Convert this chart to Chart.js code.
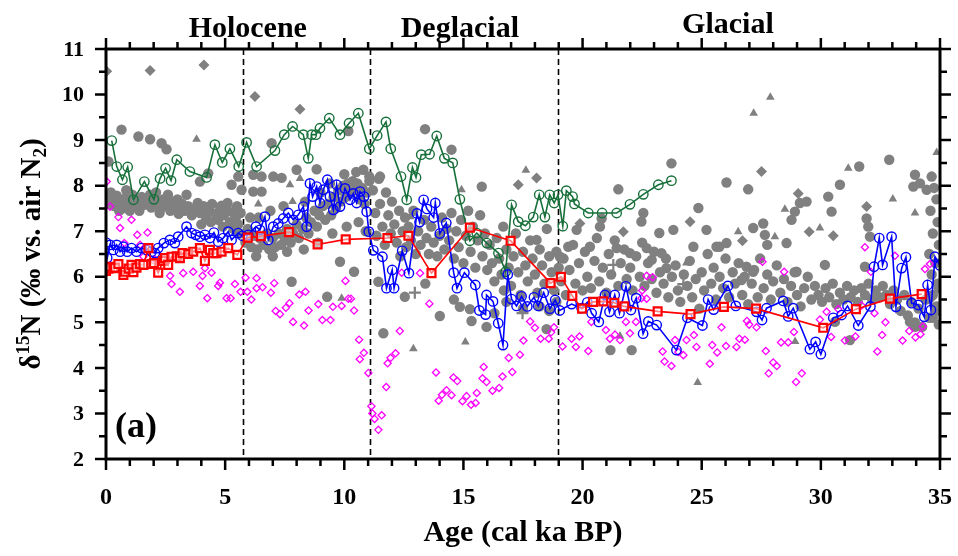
<!DOCTYPE html>
<html><head><meta charset="utf-8">
<style>html,body{margin:0;padding:0;background:#fff;overflow:hidden}canvas{display:block}</style>
<script src="https://cdn.jsdelivr.net/npm/chart.js@4.4.1/dist/chart.umd.min.js"></script>
</head><body>
<canvas id="c" width="958" height="556"></canvas>
<script>
// ---------- tick labels / annotations ----------
const xTickLabels = [0, 5, 10, 15, 20, 25, 30, 35];
const yTickLabels = [2, 3, 4, 5, 6, 7, 8, 9, 10, 11];
const periodBoundaries = [5.75, 11.1, 18.95];
const periodNames = ['Holocene', 'Deglacial', 'Glacial'];
const periodNameX = [5.95, 14.85, 26.1];

// ---------- series ----------
const greenSeries = [[0.24,8.99],[0.45,8.42],[0.69,8.13],[0.91,8.41],[1.15,7.69],[1.61,8.09],[2.01,7.70],[2.27,8.16],[2.50,8.38],[2.73,8.11],[2.97,8.57],[3.52,8.31],[4.22,8.18],[4.57,8.90],[4.88,8.51],[5.20,8.81],[5.57,8.42],[5.90,8.95],[6.32,8.42],[7.09,8.77],[7.48,9.12],[7.83,9.30],[8.28,9.12],[8.49,8.60],[8.63,9.12],[8.81,9.12],[8.98,9.26],[9.37,9.48],[9.82,9.12],[10.20,9.37],[10.59,9.59],[11.05,8.81],[11.38,9.10],[11.75,9.40],[11.95,8.81],[12.38,8.20],[12.62,7.69],[12.86,8.40],[13.01,8.18],[13.23,8.68],[13.58,8.69],[13.88,9.09],[14.20,8.60],[14.55,8.50],[14.85,7.70],[15.27,6.79],[15.56,6.96],[15.98,6.74],[16.47,6.52],[16.77,6.11],[17.02,7.58],[17.30,7.21],[17.60,7.12],[17.93,7.31],[18.18,7.80],[18.42,7.31],[18.62,7.80],[18.81,7.62],[18.97,7.80],[19.17,7.11],[19.32,7.89],[19.58,7.76],[19.66,7.60],[20.24,7.40],[20.82,7.40],[21.43,7.40],[21.99,7.59],[22.55,7.81],[23.18,8.02],[23.73,8.11]];

const blueSeries = [[0.00,6.75],[0.05,6.41],[0.17,6.70],[0.31,6.59],[0.45,6.70],[0.59,6.55],[0.73,6.66],[0.89,6.55],[1.07,6.63],[1.28,6.55],[1.49,6.63],[1.70,6.59],[1.91,6.55],[2.05,6.52],[2.19,6.63],[2.43,6.74],[2.68,6.81],[2.89,6.74],[3.03,6.88],[3.38,7.10],[3.59,6.96],[3.77,6.92],[3.94,6.88],[4.15,6.92],[4.36,6.85],[4.53,6.97],[4.71,6.77],[4.92,6.85],[5.13,6.99],[5.27,6.81],[5.55,6.96],[5.72,6.90],[5.97,6.92],[6.29,7.10],[6.46,7.03],[6.67,7.32],[6.81,6.81],[7.02,7.10],[7.23,7.17],[7.44,7.28],[7.65,7.40],[7.86,7.25],[8.07,7.36],[8.28,7.54],[8.42,7.10],[8.56,8.05],[8.67,7.76],[8.84,7.98],[8.98,7.62],[9.12,7.91],[9.29,8.13],[9.40,7.76],[9.54,7.47],[9.68,8.02],[9.82,7.54],[10.03,7.94],[10.24,7.69],[10.38,7.83],[10.52,7.62],[10.66,7.87],[10.83,7.76],[10.94,7.43],[11.03,6.99],[11.22,6.58],[11.60,6.44],[11.77,5.75],[12.01,6.15],[12.09,5.75],[12.43,6.57],[12.71,6.08],[13.05,7.39],[13.16,7.20],[13.33,7.69],[13.47,7.49],[13.75,7.30],[13.82,7.62],[14.01,6.95],[14.28,7.18],[14.59,6.09],[14.73,5.75],[15.04,6.09],[15.50,5.82],[15.67,5.26],[15.93,5.17],[15.97,5.60],[16.24,5.46],[16.46,4.98],[16.66,4.50],[16.86,6.05],[17.02,5.51],[17.23,5.36],[17.44,5.57],[17.68,5.35],[17.96,5.55],[18.14,5.36],[18.37,5.65],[18.63,5.30],[18.85,5.49],[19.04,5.26],[19.54,5.40],[19.96,5.31],[20.20,5.44],[20.38,5.20],[20.68,5.01],[20.94,5.60],[21.13,5.23],[21.35,5.60],[21.55,5.20],[21.82,5.79],[22.03,5.27],[22.25,5.53],[22.54,4.75],[22.76,5.02],[23.11,4.94],[23.94,4.39],[24.40,5.10],[25.03,4.93],[25.27,5.50],[25.50,5.28],[26.10,5.80],[26.43,5.36],[27.30,5.23],[27.53,5.05],[27.72,5.31],[28.42,5.47],[28.63,5.13],[28.84,5.31],[29.54,4.41],[29.78,4.57],[30.00,4.30],[30.52,5.10],[30.87,5.16],[31.12,5.36],[31.57,4.93],[32.08,5.35],[32.23,6.22],[32.45,6.85],[32.59,6.26],[32.97,6.88],[33.15,5.34],[33.39,6.19],[33.57,6.43],[33.81,5.42],[34.09,5.38],[34.34,5.12],[34.48,5.82],[34.62,5.27],[34.79,6.44],[35.00,6.25]];

const redSeries = [[0.00,6.13],[0.10,6.18],[0.17,6.22],[0.31,6.19],[0.38,6.20],[0.52,6.28],[0.73,6.04],[0.80,6.11],[0.95,6.18],[1.07,6.26],[1.15,6.10],[1.28,6.20],[1.43,6.28],[1.57,6.26],[1.78,6.63],[1.91,6.28],[2.01,6.30],[2.19,6.09],[2.40,6.35],[2.48,6.41],[2.61,6.26],[2.75,6.44],[2.97,6.45],[3.10,6.41],[3.21,6.52],[3.45,6.50],[3.66,6.55],[3.94,6.63],[4.15,6.35],[4.36,6.59],[4.50,6.52],[4.64,6.52],[4.85,6.55],[5.13,6.63],[5.51,6.48],[5.95,6.86],[6.50,6.89],[7.68,6.98],[8.88,6.71],[10.06,6.82],[11.81,6.85],[12.69,6.90],[13.66,6.08],[15.27,7.08],[16.98,6.79],[18.66,5.86],[19.09,6.00],[19.57,5.58],[19.98,5.30],[20.44,5.45],[20.87,5.46],[21.33,5.43],[21.75,5.35],[23.15,5.24],[24.53,5.18],[25.93,5.34],[27.28,5.30],[30.10,4.88],[31.47,5.29],[32.90,5.52],[34.23,5.62]];

const magentaPoints = [[0.03,8.09],[0.17,7.54],[0.52,7.31],[0.59,7.07],[1.07,7.25],[0.77,6.74],[1.31,6.92],[1.74,6.97],[1.43,6.70],[1.57,6.44],[2.05,6.38],[2.69,6.02],[2.75,5.84],[3.10,5.67],[3.24,6.08],[3.66,6.11],[3.94,5.80],[4.05,6.02],[4.15,6.19],[4.25,5.53],[4.43,6.09],[4.71,5.80],[4.78,5.87],[5.06,5.53],[5.23,5.53],[5.41,5.84],[5.65,5.67],[5.86,5.98],[5.93,5.67],[6.10,5.50],[6.32,5.75],[6.32,5.97],[6.57,5.77],[6.92,5.65],[7.06,5.86],[7.12,5.25],[7.30,5.18],[7.55,5.32],[7.70,5.42],[7.85,5.01],[8.11,5.61],[8.37,5.67],[8.31,4.93],[8.50,5.26],[8.91,5.40],[9.08,5.05],[9.42,5.05],[9.52,5.34],[9.89,5.36],[10.05,5.91],[10.17,5.52],[10.28,5.52],[10.41,5.26],[10.62,4.62],[10.65,4.19],[10.82,4.33],[11.01,3.89],[11.14,3.16],[11.18,3.00],[11.27,2.88],[11.43,2.64],[11.57,2.96],[11.76,3.58],[11.82,4.10],[11.94,4.22],[12.15,4.32],[12.33,4.81],[12.41,6.09],[13.18,6.08],[13.57,5.41],[13.85,3.90],[13.96,3.28],[14.10,3.41],[14.29,3.51],[14.50,3.40],[14.58,3.79],[14.74,3.71],[14.96,3.27],[15.13,3.38],[15.32,3.19],[15.51,3.23],[15.56,3.45],[15.80,3.77],[15.85,4.02],[15.97,3.69],[16.22,3.50],[16.50,3.56],[16.64,3.81],[16.90,4.22],[17.05,3.91],[17.37,4.29],[17.52,4.60],[17.80,5.02],[18.00,4.88],[18.24,4.64],[18.58,4.64],[18.68,4.78],[18.80,4.89],[19.16,4.47],[19.54,4.64],[19.72,4.46],[19.87,4.69],[20.24,4.37],[20.37,5.01],[20.98,4.83],[21.15,4.64],[21.36,4.73],[21.57,4.61],[21.82,5.01],[21.99,4.76],[22.24,5.01],[22.50,5.70],[22.47,5.53],[22.69,5.52],[22.69,6.02],[22.94,5.99],[23.36,4.36],[23.44,4.14],[23.73,4.04],[23.88,4.61],[24.02,4.35],[24.23,4.28],[24.36,4.61],[24.67,4.72],[24.78,4.46],[25.34,4.09],[25.44,4.50],[25.65,4.34],[25.83,4.89],[26.02,4.48],[26.46,4.46],[26.58,4.64],[26.81,4.62],[26.90,5.03],[26.99,4.95],[27.30,4.89],[27.55,6.33],[27.69,4.37],[27.81,3.88],[28.00,4.12],[28.15,4.04],[28.33,4.56],[28.46,6.11],[28.63,4.56],[28.87,4.79],[28.96,3.69],[29.20,3.88],[29.96,5.06],[30.24,5.23],[30.43,4.68],[30.73,5.29],[31.01,4.60],[31.45,4.69],[31.71,5.37],[31.85,6.65],[32.10,6.11],[32.25,5.20],[32.37,4.36],[32.57,4.72],[32.71,5.00],[33.11,6.46],[33.43,4.60],[33.71,4.81],[33.97,4.67],[34.18,4.74],[34.28,4.91],[34.37,6.17],[34.58,6.28]];

const grayCircles = [
[0.10,8.53],[0.65,9.23],[1.36,9.08],[1.85,9.02],[2.33,8.93],[2.54,8.80],[4.29,8.27],[3.94,8.09],[5.27,8.02],[5.55,8.20],[5.69,7.91],
[0.05,7.80],[0.10,7.60],[0.20,7.85],[0.25,7.70],[0.35,7.55],[0.45,7.78],[0.55,7.45],[0.60,7.62],[0.70,7.50],[0.80,7.72],[0.85,7.90],[0.95,7.60],[1.00,7.45],[1.10,7.80],[1.20,7.55],[1.35,7.68],[1.40,7.45],[1.50,7.75],[1.60,7.58],[1.75,7.66],[1.85,7.80],[1.90,7.52],[2.00,7.72],[2.10,7.85],[2.15,7.60],[2.25,7.40],[2.30,7.50],[2.40,7.70],[2.55,7.58],[2.60,7.80],[2.70,7.45],[2.80,7.65],[2.95,7.52],[3.00,7.70],[3.05,7.38],[3.20,7.60],[3.30,7.45],[3.38,7.80],[3.45,7.55],[3.60,7.35],[3.70,7.50],[3.85,7.62],[3.95,7.40],[4.00,7.15],[4.10,7.55],[4.20,7.30],[4.35,7.45],[4.40,7.20],[4.45,7.60],[4.60,7.38],[4.70,7.25],[4.80,7.50],[4.85,7.56],[4.90,7.10],[4.95,7.35],[5.05,7.55],[5.10,7.62],[5.20,7.20],[5.30,7.42],[5.35,7.05],[5.45,7.30],[5.50,7.55],[5.55,7.15],[5.60,6.95],[5.65,7.40],
[6.95,8.93],[6.18,8.24],[6.53,8.20],[7.02,8.20],[7.37,8.17],[8.00,8.35],[8.84,8.36],[6.18,7.87],[6.53,7.87],
[5.85,6.75],[5.95,7.05],[6.05,7.30],[6.10,6.65],[6.20,6.90],[6.30,6.45],[6.35,6.60],[6.40,7.30],[6.45,6.85],[6.60,6.70],[6.75,6.95],[6.85,6.60],[6.90,7.45],[7.00,6.85],[7.00,6.45],[7.10,6.65],[7.25,6.95],[7.35,6.70],[7.45,7.55],[7.50,6.85],[7.60,7.05],[7.60,6.55],[7.75,6.75],[7.85,6.95],[8.00,7.15],[8.10,6.85],[8.25,7.05],[8.30,6.60],[8.35,7.65],[8.40,7.30],[8.50,6.95],[8.60,7.20],[8.75,7.45],[8.85,7.10],[8.90,6.75],[8.95,7.35],[9.00,7.85],[9.10,7.55],[9.20,7.25],[9.30,7.60],[9.40,8.05],[9.45,7.35],[9.50,6.95],[9.55,7.75],[9.65,7.50],[9.75,7.90],[9.85,7.65],[9.95,8.00],[10.00,8.25],[10.05,7.75],[10.10,7.10],[10.15,8.05],[10.25,7.85],[10.35,8.10],[10.45,7.90],[10.50,8.30],[10.55,8.05],[10.60,7.20],[10.65,7.70],[10.75,7.95],[10.80,8.35],[10.85,7.60],[10.90,7.00],[10.95,7.85],[11.05,8.10],
[7.79,5.89],[9.28,5.56],[9.82,6.33],[10.41,6.11],
[10.17,9.20],[13.39,9.24],[14.50,8.79],[15.77,7.98],[11.05,8.20],[11.50,8.20],
[11.20,7.90],[11.30,7.40],[11.35,6.90],[11.45,8.15],[11.50,7.60],[11.60,7.10],[11.70,6.70],[11.75,7.85],[11.85,7.35],[11.95,6.95],[12.00,7.65],[12.10,7.15],[12.20,6.75],[12.30,7.45],[12.35,6.45],[12.45,7.00],[12.55,7.30],[12.60,6.65],[12.70,7.10],[12.80,6.80],[12.90,7.45],[13.00,6.50],[13.10,7.00],[13.20,6.70],[13.35,7.25],[13.45,6.85],[13.55,6.50],[13.65,7.10],[13.75,6.75],[13.90,6.45],[14.00,6.90],[14.10,7.30],[14.20,6.60],[14.30,7.05],[14.40,6.80],[14.50,7.40],[14.60,6.40],[14.70,7.00],[14.80,6.65],[14.90,7.25],[15.00,6.30],[15.10,6.90],[15.20,7.45],[15.30,6.55],[15.40,7.10],[15.50,6.20],[15.60,6.80],[15.70,7.35],[15.80,6.45],[15.90,6.95],[16.00,6.15],[16.10,6.70],[16.20,6.30],[16.30,5.90],[16.40,6.85],[16.50,6.40],[16.60,6.05],[16.67,7.10],[16.70,5.70],[16.80,6.60],[16.90,6.20],[17.00,5.80],[17.10,6.45],[17.20,6.95],[17.30,6.10],[17.40,5.60],[17.50,6.55],[17.60,6.25],[17.70,5.90],[17.80,6.80],[17.90,6.40],[18.00,6.05],[18.07,6.81],[18.10,5.65],[18.20,6.60],[18.30,6.25],[18.40,5.85],[18.50,7.05],[18.60,6.45],[18.70,6.10],[18.80,5.70],[18.90,6.55],[19.00,6.20],
[11.64,4.76],[11.43,5.89],[12.54,5.56],[13.40,5.85],[14.01,5.14],[14.60,5.50],[14.85,5.34],[15.27,5.29],[15.34,5.03],[15.97,4.90],[16.30,5.20],[16.80,5.45],[17.50,5.30],[18.20,5.35],[18.60,5.25],[18.90,5.45],[18.49,4.85],[21.17,4.39],[22.06,4.39],
[19.10,5.90],[19.20,6.40],[19.30,5.60],[19.45,6.15],[19.60,6.70],[19.70,5.85],[19.85,6.30],[20.00,5.70],[20.10,6.55],[20.20,6.00],[20.35,5.75],[20.50,6.35],[20.60,6.85],[20.70,5.90],[20.85,6.20],[21.00,5.65],[21.10,6.50],[21.20,6.05],[21.35,6.80],[21.50,5.80],[21.60,6.30],[21.75,6.60],[21.85,5.95],[22.00,6.20],[22.10,5.70],[22.25,6.45],[22.40,6.00],[22.50,6.75],[22.60,5.80],[22.75,6.30],[22.90,5.95],[23.00,6.55],[23.10,5.65],[23.25,6.10],[23.40,5.85],[23.50,6.40],[23.60,5.55],[23.75,6.00],[23.90,6.25],[24.00,5.70],[24.10,5.45],[24.25,6.05],[24.40,5.80],[24.50,6.35],[24.60,5.55],[24.75,5.95],[24.90,5.30],[25.00,6.10],[25.10,5.70],[25.25,6.50],[25.40,5.85],[25.50,6.20],[25.60,5.50],[25.75,6.00],[25.90,5.75],[26.00,6.40],[26.15,5.55],[26.30,6.10],[26.40,5.85],[26.55,6.30],[26.70,5.60],[26.80,6.00],[26.95,5.40],[27.10,5.85],[27.20,6.15],[27.35,5.55],[27.45,6.40],[27.60,5.75],[27.75,6.05],[27.90,5.50],[28.00,5.90],[28.15,6.25],[28.30,5.65],[28.45,5.95],[28.60,5.45],[28.75,5.80],[28.90,6.10],[29.00,5.60],[29.15,5.35],[29.30,5.75],[29.45,6.00],[29.60,5.50],[29.75,5.80],[29.90,5.60],[30.05,5.45],[30.20,5.75],[30.35,5.55],[30.50,5.85],[30.65,5.40],[30.80,5.65],[30.95,5.50],[31.10,5.80],[31.25,5.55],[31.40,5.70],[31.55,5.45],[31.70,5.75],[31.85,5.60],[32.00,5.85],[32.15,5.50],[32.30,5.70],[32.45,5.55],[32.60,5.80],[32.75,5.60],[32.90,5.40],[33.05,5.70],[33.20,5.50],[33.35,5.25],[33.50,5.60],[33.65,5.15],[33.80,5.45],[33.95,5.00],[34.10,5.30],[34.25,4.90],[34.40,5.50],[34.55,5.10],[34.70,5.60],[34.85,5.25],[34.95,5.75],
[20.80,7.28],[20.73,7.10],[19.75,7.03],[19.40,6.66],[19.05,6.44],[20.31,6.66],[21.43,6.63],[21.99,6.52],[22.69,6.63],[22.90,6.37],[21.50,7.92],[22.55,7.40],[22.47,7.21],[23.22,6.96],[23.31,6.52],[23.81,7.03],[23.73,8.49],[24.86,7.51],[25.20,7.03],[25.74,6.66],[26.04,6.74],[26.04,8.07],[26.95,7.92],[27.16,7.07],[27.58,7.17],[27.65,6.92],[27.75,6.70],[28.77,7.25],[28.91,7.43],[29.40,7.65],[29.12,7.62],[28.56,6.74],[30.31,7.76],[30.17,6.26],[30.80,8.02],[31.61,8.42],[32.87,8.57],[33.95,8.24],[33.88,7.98],[26.88,6.22],[26.67,5.93],[27.16,6.11],[28.98,6.11],[24.65,6.66],[25.62,6.66],[23.52,6.19],[30.45,7.43],[31.92,7.28],[31.99,7.10],[32.06,6.88],[31.85,6.22],
[34.65,8.20],[34.75,7.95],[34.85,7.70],[34.60,7.45],[34.90,7.20],[34.70,6.95],[34.95,6.70],[34.55,6.50],[34.80,6.30],[34.65,6.05],[34.90,5.85],[34.60,5.55],[34.85,5.35],[34.70,5.10],[34.95,4.95],[34.16,8.05],[34.44,7.91],
[33.74,5.01],[33.95,4.90],[31.22,4.61],[30.59,5.01]
];

const grayDiamonds = [[0.03,10.51],[1.85,10.53],[4.11,10.65],[6.25,9.96],[8.14,9.68],[17.30,8.02],[18.07,8.17],[19.89,7.17],[21.71,6.99],[24.51,7.21],[26.71,6.79],[27.51,8.31],[29.05,7.83],[29.51,6.99],[30.52,6.90],[31.92,7.54]];

const grayTriangles = [[3.80,9.02],[6.39,7.60],[7.72,8.02],[8.14,8.16],[7.83,7.65],[9.89,5.53],[12.90,4.42],[15.08,4.57],[12.76,7.32],[14.92,7.91],[17.62,8.34],[27.18,9.59],[27.88,9.94],[31.15,8.38],[34.86,8.73],[28.49,7.48],[33.02,7.71],[33.95,7.40],[29.96,7.07],[24.83,3.68],[28.92,4.58],[21.57,4.70],[24.36,6.30],[26.53,6.99],[28.07,6.88]];

const grayCrosses = [[12.96,5.65],[21.29,6.26],[24.23,5.84],[17.48,5.20]];

// ---------- chart ----------
const SERIF = "'Liberation Serif','Times New Roman',serif";
const toPts = a => a.map(p => ({x: p[0], y: p[1]}));

const decor = {
  id: 'decor',
  beforeDatasetsDraw(chart) {
    const {ctx, chartArea: a, scales: {x}} = chart;
    ctx.save();
    ctx.strokeStyle = '#000';
    ctx.lineWidth = 1.6;
    ctx.setLineDash([6, 4]);
    periodBoundaries.forEach(v => {
      const px = Math.round(x.getPixelForValue(v)) + 0.5;
      ctx.beginPath(); ctx.moveTo(px, a.top); ctx.lineTo(px, a.bottom); ctx.stroke();
    });
    ctx.restore();
  },
  afterDraw(chart) {
    const {ctx, chartArea: a, scales: {x, y}} = chart;
    ctx.save();
    ctx.strokeStyle = '#000';
    ctx.lineWidth = 3;
    ctx.lineCap = 'square';
    ctx.strokeRect(a.left, a.top, a.right - a.left, a.bottom - a.top);
    ctx.lineCap = 'butt';
    ctx.lineWidth = 2.5;
    for (let v = x.min; v <= x.max + 1e-9; v += 1) {
      const px = x.getPixelForValue(v);
      const len = (Math.round(v) % 5 === 0) ? 11 : 7;
      ctx.beginPath();
      ctx.moveTo(px, a.bottom); ctx.lineTo(px, a.bottom + len);
      ctx.moveTo(px, a.top); ctx.lineTo(px, a.top - len);
      ctx.stroke();
    }
    for (let v = y.min; v <= y.max + 1e-9; v += 0.5) {
      const py = y.getPixelForValue(v);
      const len = (Math.abs(v - Math.round(v)) < 1e-6) ? 11 : 7;
      ctx.beginPath();
      ctx.moveTo(a.left, py); ctx.lineTo(a.left - len, py);
      ctx.moveTo(a.right, py); ctx.lineTo(a.right + len, py);
      ctx.stroke();
    }
    ctx.fillStyle = '#000';
    ctx.font = 'bold 24px ' + SERIF;
    ctx.textAlign = 'center'; ctx.textBaseline = 'middle';
    xTickLabels.forEach(v => ctx.fillText(String(v), x.getPixelForValue(v), a.bottom + 39));
    ctx.font = 'bold 22px ' + SERIF;
    ctx.textAlign = 'right';
    yTickLabels.forEach(v => ctx.fillText(String(v), a.left - 22, y.getPixelForValue(v) + 1));
    ctx.font = 'bold 30px ' + SERIF;
    ctx.textAlign = 'center'; ctx.textBaseline = 'alphabetic';
    periodNames.forEach((n, i) => ctx.fillText(n, x.getPixelForValue(periodNameX[i]), i === 2 ? 33 : 37));
    ctx.font = 'bold 30px ' + SERIF;
    ctx.fillText('Age (cal ka BP)', (a.left + a.right) / 2, 541);
    ctx.textAlign = 'left';
    ctx.font = 'bold 36px ' + SERIF;
    ctx.fillText('(a)', a.left + 9, 437);
    const big = 'bold 29px ' + SERIF, small = 'bold 19px ' + SERIF;
    const parts = [['δ', big, 0], ['15', small, -11], ['N (‰ vs. air N', big, 0], ['2', small, 6], [')', big, 0]];
    let total = 0;
    parts.forEach(p => { ctx.font = p[1]; total += ctx.measureText(p[0]).width; });
    ctx.translate(40, (a.top + a.bottom) / 2);
    ctx.rotate(-Math.PI / 2);
    let cx = -total / 2;
    parts.forEach(p => { ctx.font = p[1]; ctx.fillText(p[0], cx, p[2]); cx += ctx.measureText(p[0]).width; });
    ctx.restore();
  }
};

new Chart(document.getElementById('c'), {
  type: 'scatter',
  data: {
    datasets: [
      {label: 'red', data: toPts(redSeries), showLine: true, borderColor: '#ff0000', borderWidth: 1.6,
       pointStyle: 'rect', pointRadius: 5.6, pointBorderWidth: 2.2, pointBorderColor: '#ff0000',
       pointBackgroundColor: 'rgba(255,255,255,0.5)', order: 0},
      {label: 'blue', data: toPts(blueSeries), showLine: true, borderColor: '#0000ff', borderWidth: 1.6,
       pointStyle: 'circle', pointRadius: 4.7, pointBorderWidth: 1.4, pointBorderColor: '#0000ff',
       pointBackgroundColor: 'rgba(0,0,0,0)', order: 1},
      {label: 'green', data: toPts(greenSeries), showLine: true, borderColor: '#17703a', borderWidth: 1.6,
       pointStyle: 'circle', pointRadius: 4.7, pointBorderWidth: 1.4, pointBorderColor: '#17703a',
       pointBackgroundColor: 'rgba(0,0,0,0)', order: 2},
      {label: 'magenta', data: toPts(magentaPoints), showLine: false, pointStyle: 'rectRot', pointRadius: 3.6,
       pointBorderWidth: 1.3, pointBorderColor: '#ff00ff', pointBackgroundColor: 'rgba(0,0,0,0)', order: 3},
      {label: 'grayCross', data: toPts(grayCrosses), showLine: false, pointStyle: 'cross', pointRadius: 6,
       pointBorderWidth: 2.2, pointBorderColor: '#808080', order: 4},
      {label: 'grayTri', data: toPts(grayTriangles), showLine: false, pointStyle: 'triangle', pointRadius: 5,
       pointBorderWidth: 0, pointBackgroundColor: '#808080', order: 5},
      {label: 'grayDia', data: toPts(grayDiamonds), showLine: false, pointStyle: 'rectRot', pointRadius: 5.5,
       pointBorderWidth: 0, pointBackgroundColor: '#808080', order: 6},
      {label: 'grayCirc', data: toPts(grayCircles), showLine: false, pointStyle: 'circle', pointRadius: 5.2,
       pointBorderWidth: 0, pointBackgroundColor: '#808080', order: 7}
    ]
  },
  options: {
    responsive: false, animation: false, events: [],
    layout: {padding: {left: 106, right: 18, top: 49, bottom: 97}},
    plugins: {legend: {display: false}, tooltip: {enabled: false}},
    scales: {
      x: {type: 'linear', min: 0, max: 35, display: false},
      y: {type: 'linear', min: 2, max: 11, display: false}
    }
  },
  plugins: [decor]
});
</script>
</body></html>
